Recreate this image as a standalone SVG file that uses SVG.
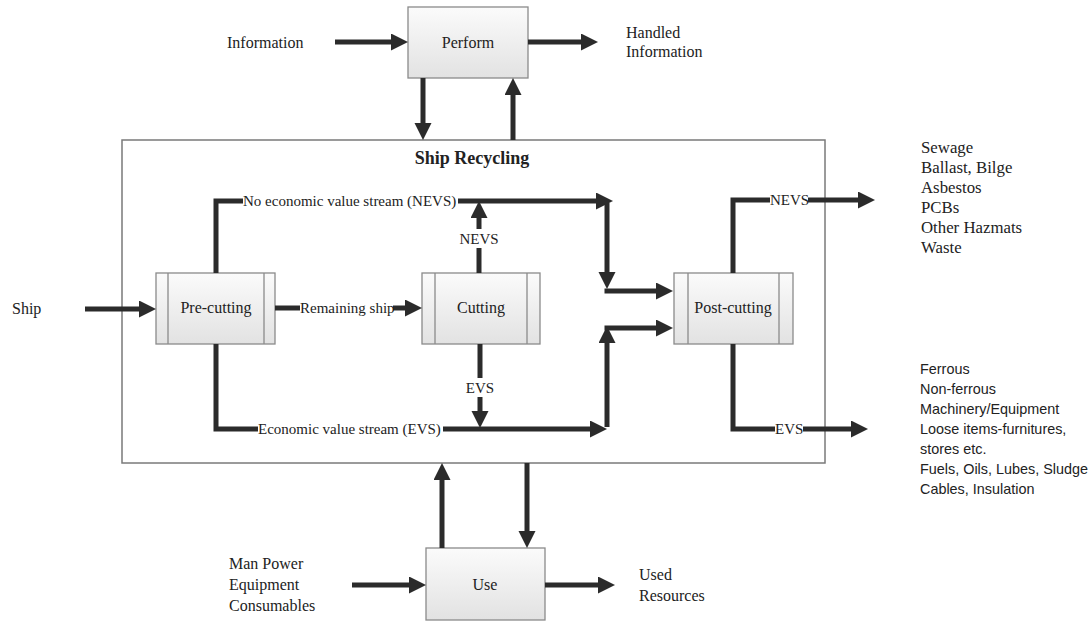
<svg xmlns="http://www.w3.org/2000/svg" width="1091" height="621" viewBox="0 0 1091 621">
<style>
.serif{font-family:"Liberation Serif","Times New Roman",serif;fill:#222;}
.sans{font-family:"Liberation Sans",Arial,sans-serif;fill:#222;}
.t16{font-size:16px;}
.t15{font-size:15px;}
.t17{font-size:16.8px;}
.ts{font-size:14.4px;}
.mid{text-anchor:middle;}
.box{fill:url(#g);stroke:#8a8a8a;stroke-width:1.3;}
.inner{stroke:#8a8a8a;stroke-width:1.3;}
.frame{fill:none;stroke:#7a7a7a;stroke-width:1.5;}
.c{fill:none;stroke:#2b2b2b;stroke-width:5;stroke-linejoin:miter;}
.a{marker-end:url(#ah);}
</style>
<defs>
<linearGradient id="g" x1="0" y1="0" x2="0" y2="1">
<stop offset="0" stop-color="#fbfbfb"/>
<stop offset="1" stop-color="#e2e2e2"/>
</linearGradient>
<marker id="ah" markerUnits="userSpaceOnUse" markerWidth="18" markerHeight="18" refX="7" refY="8.5" orient="auto">
<path d="M0,0 L17,8.5 L0,17 z" fill="#2b2b2b"/>
</marker>
</defs>
<rect width="1091" height="621" fill="#ffffff"/>

<g id="ship-recycling">
<rect class="frame" x="122" y="140" width="703" height="323"/>
<text class="serif mid" x="472" y="164" font-size="18" font-weight="bold">Ship Recycling</text>
</g>

<g id="perform">
<rect class="box" x="408" y="7" width="120" height="71"/>
<text class="serif t16 mid" x="468" y="48">Perform</text>
</g>
<g id="use">
<rect class="box" x="426" y="548" width="119" height="72"/>
<text class="serif t16 mid" x="485" y="590">Use</text>
</g>
<g id="pre-cutting">
<rect class="box" x="156" y="273" width="119" height="71"/>
<line class="inner" x1="168" y1="273" x2="168" y2="344"/>
<line class="inner" x1="264" y1="273" x2="264" y2="344"/>
<text class="serif t16 mid" x="216" y="313">Pre-cutting</text>
</g>
<g id="cutting">
<rect class="box" x="422" y="273" width="118" height="71"/>
<line class="inner" x1="435" y1="273" x2="435" y2="344"/>
<line class="inner" x1="527" y1="273" x2="527" y2="344"/>
<text class="serif t16 mid" x="481" y="313">Cutting</text>
</g>
<g id="post-cutting">
<rect class="box" x="674" y="273" width="119" height="71"/>
<line class="inner" x1="688" y1="273" x2="688" y2="344"/>
<line class="inner" x1="779" y1="273" x2="779" y2="344"/>
<text class="serif t16 mid" x="733" y="313">Post-cutting</text>
</g>

<g id="labels">
<text class="serif t16" x="227" y="48">Information</text>
<text class="serif t16" x="626" y="38">Handled</text>
<text class="serif t16" x="626" y="57">Information</text>
<text class="serif t16" x="12" y="314">Ship</text>
<text class="serif t16" x="229" y="569">Man Power</text>
<text class="serif t16" x="229" y="590">Equipment</text>
<text class="serif t16" x="229" y="611">Consumables</text>
<text class="serif t16" x="639" y="580">Used</text>
<text class="serif t16" x="639" y="601">Resources</text>
<g class="serif t17">
<text x="921" y="153">Sewage</text>
<text x="921" y="173">Ballast, Bilge</text>
<text x="921" y="193">Asbestos</text>
<text x="921" y="213">PCBs</text>
<text x="921" y="233">Other Hazmats</text>
<text x="921" y="253">Waste</text>
</g>
<g class="sans ts">
<text x="920" y="374">Ferrous</text>
<text x="920" y="394">Non-ferrous</text>
<text x="920" y="414">Machinery/Equipment</text>
<text x="920" y="434">Loose items-furnitures,</text>
<text x="920" y="454">stores etc.</text>
<text x="920" y="474">Fuels, Oils, Lubes, Sludge</text>
<text x="920" y="494">Cables, Insulation</text>
</g>
</g>

<g id="connectors">
<path class="c a" d="M335,42 H398"/>
<path class="c a" d="M528,42 H588"/>
<path class="c a" d="M423,78 V130"/>
<path class="c a" d="M513,140 V88"/>
<path class="c a" d="M85,309 H146"/>
<path class="c" d="M275,308 H300"/>
<path class="c a" d="M393,308 H412"/>
<text class="serif t15" x="300" y="313">Remaining ship</text>
<path class="c" d="M216,273 V201 H243"/>
<text class="serif t15" x="243" y="206">No economic value stream (NEVS)</text>
<path class="c a" d="M458,201 H603"/>
<path class="c" d="M479,273 V248"/>
<text class="serif t15 mid" x="479" y="244">NEVS</text>
<path class="c a" d="M479,229 V211"/>
<path class="c a" d="M607,203 V279"/>
<path class="c a" d="M604.5,291 H663"/>
<path class="c" d="M216,344 V429 H258"/>
<text class="serif t15" x="258" y="434">Economic value stream (EVS)</text>
<path class="c a" d="M443,429 H597"/>
<path class="c" d="M480,344 V378"/>
<text class="serif t15 mid" x="480" y="393">EVS</text>
<path class="c a" d="M480,397 V418"/>
<path class="c a" d="M607,427 V336"/>
<path class="c a" d="M604.5,328 H663"/>
<path class="c" d="M733,273 V200 H770"/>
<text class="serif t15" x="770" y="205">NEVS</text>
<path class="c a" d="M808,200 H865"/>
<path class="c" d="M733,344 V429 H775"/>
<text class="serif t15" x="775" y="434">EVS</text>
<path class="c a" d="M803,429 H858"/>
<path class="c a" d="M442,548 V473"/>
<path class="c a" d="M527,463 V538"/>
<path class="c a" d="M352,585 H416"/>
<path class="c a" d="M545,585 H605"/>
</g>
</svg>
